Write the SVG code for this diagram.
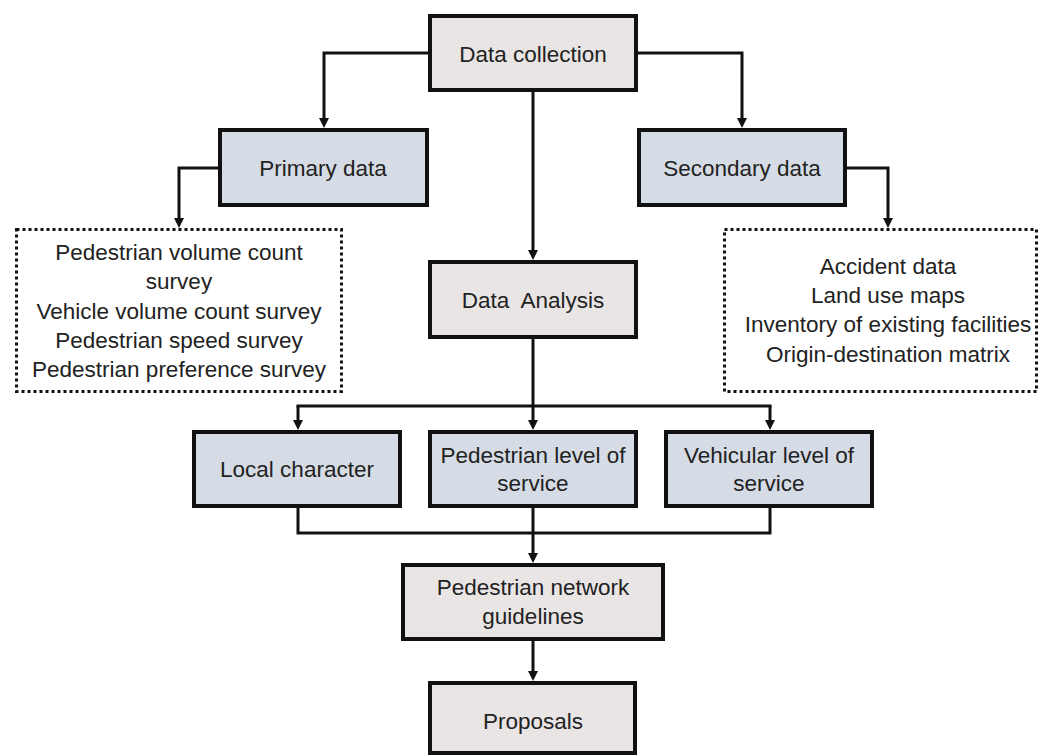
<svg xmlns="http://www.w3.org/2000/svg" width="1046" height="756" viewBox="0 0 1046 756">
<style>
.gbox{fill:#E9E5E5;stroke:#111;stroke-width:4}
.bbox{fill:#D6DCE5;stroke:#111;stroke-width:4}
.dot{fill:#fff;stroke:#111;stroke-width:3;stroke-dasharray:3 3}
.t{font-family:"Liberation Sans",Arial,sans-serif;font-size:22.5px;fill:#222;text-anchor:middle}
.c{fill:none;stroke:#111;stroke-width:3}
</style>
<defs>
<marker id="ah" markerUnits="userSpaceOnUse" markerWidth="10" markerHeight="10" refX="2" refY="5" orient="auto" viewBox="0 0 10 10">
<path d="M0,0 L10,5 L0,10 Z" fill="#111"/>
</marker>
</defs>
<rect width="1046" height="756" fill="#fff"/>
<g id="connectors">
<polyline class="c" points="428,53 324,53 324,120" marker-end="url(#ah)"/>
<polyline class="c" points="638,53 742,53 742,120" marker-end="url(#ah)"/>
<line class="c" x1="533" y1="92" x2="533" y2="252" marker-end="url(#ah)"/>
<polyline class="c" points="218,168 179,168 179,220" marker-end="url(#ah)"/>
<polyline class="c" points="847,168 888,168 888,220" marker-end="url(#ah)"/>
<line class="c" x1="533" y1="339" x2="533" y2="422" marker-end="url(#ah)"/>
<line class="c" x1="296.5" y1="406" x2="771.5" y2="406"/>
<line class="c" x1="298" y1="406" x2="298" y2="422" marker-end="url(#ah)"/>
<line class="c" x1="770" y1="406" x2="770" y2="422" marker-end="url(#ah)"/>
<polyline class="c" points="298,508 298,533 770,533 770,508"/>
<line class="c" x1="533" y1="508" x2="533" y2="555" marker-end="url(#ah)"/>
<line class="c" x1="533" y1="641" x2="533" y2="673" marker-end="url(#ah)"/>
</g>
<g id="data-collection"><rect class="gbox" x="430" y="16" width="206" height="74"/><text class="t" x="533" y="62">Data collection</text></g>
<g id="primary-data"><rect class="bbox" x="220" y="130" width="207" height="75"/><text class="t" x="323" y="176">Primary data</text></g>
<g id="secondary-data"><rect class="bbox" x="639" y="130" width="206" height="75"/><text class="t" x="742" y="176">Secondary data</text></g>
<g id="primary-list"><rect class="dot" x="16.5" y="229.5" width="325" height="162"/>
<text class="t" x="179" y="260">Pedestrian volume count</text>
<text class="t" x="179" y="289">survey</text>
<text class="t" x="179" y="318.5">Vehicle volume count survey</text>
<text class="t" x="179" y="348">Pedestrian speed survey</text>
<text class="t" x="179" y="377">Pedestrian preference survey</text></g>
<g id="secondary-list"><rect class="dot" x="724.5" y="229.5" width="312" height="162"/>
<text class="t" x="888" y="274">Accident data</text>
<text class="t" x="888" y="303">Land use maps</text>
<text class="t" x="888" y="332">Inventory of existing facilities</text>
<text class="t" x="888" y="362">Origin-destination matrix</text></g>
<g id="data-analysis"><rect class="gbox" x="430" y="262" width="206" height="75"/><text class="t" x="533" y="308" xml:space="preserve">Data  Analysis</text></g>
<g id="local-character"><rect class="bbox" x="194" y="432" width="206" height="74"/><text class="t" x="297" y="477">Local character</text></g>
<g id="ped-los"><rect class="bbox" x="430" y="432" width="206" height="74"/><text class="t" x="533" y="463">Pedestrian level of</text><text class="t" x="533" y="491">service</text></g>
<g id="veh-los"><rect class="bbox" x="666" y="432" width="206" height="74"/><text class="t" x="769" y="463">Vehicular level of</text><text class="t" x="769" y="491">service</text></g>
<g id="ped-network"><rect class="gbox" x="403" y="565" width="260" height="74"/><text class="t" x="533" y="595">Pedestrian network</text><text class="t" x="533" y="624">guidelines</text></g>
<g id="proposals"><rect class="gbox" x="430" y="683" width="205" height="70"/><text class="t" x="533" y="729">Proposals</text></g>
</svg>
